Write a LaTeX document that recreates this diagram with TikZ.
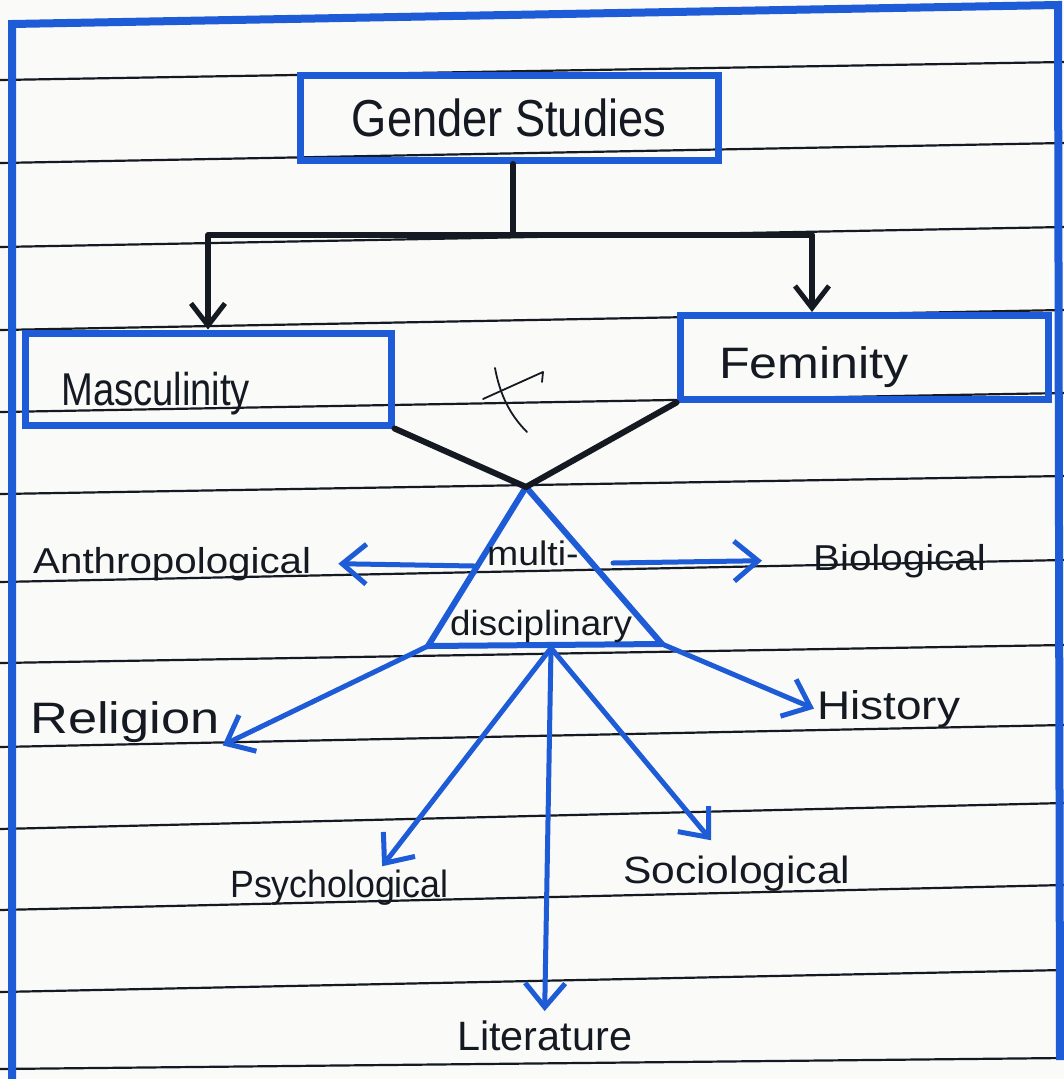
\documentclass[tikz,border=0pt]{standalone}
\usepackage{fontspec}
\setmainfont{Liberation Sans}
\usetikzlibrary{arrows.meta,calc}
\definecolor{pen}{HTML}{1E5BD6}
\definecolor{ink}{HTML}{151A22}
\definecolor{paperbg}{HTML}{FAFAF8}
\newcommand{\hw}[2]{\addfontfeature{FakeStretch=#2}\fontsize{#1pt}{#1pt}\selectfont}
\begin{document}
\begin{tikzpicture}[x=1pt,y=-1pt,
  rule/.style={draw=ink, line width=2.2pt},
  bluebox/.style={draw=pen, line width=7pt, rectangle, inner sep=0pt, text=ink},
  lbl/.style={text=ink, inner sep=3pt, anchor=base west},
  blk/.style={draw=ink, line width=6pt, line cap=round, line join=round},
  karr/.style={blk, -{Straight Barb[length=22pt,width=34pt,line width=5pt]}},
  barr/.style={draw=pen, line width=5pt, line cap=round, -{Straight Barb[length=24pt,width=40pt,line width=5pt]}}
]
\useasboundingbox (0,0) rectangle (1064,1079);
\fill[paperbg] (0,0) rectangle (1064,1079);
% ruled lines
\foreach \a/\b in {80/62,163/143,247/227,330/310,412/393,494/476,582/560,663/645,747/725,829/803,910/885,992/970,1069/1058}
  \draw[rule] (0,\a) -- (1064,\b);
% page border
\draw[draw=pen, line width=8pt] (12,1079) -- (12,24) -- (1058,5) -- (1060,1060);

% boxes
\node[bluebox, minimum width=418pt, minimum height=85pt, font=\hw{52}{0.87}] (gs) at (509,118) {Gender Studies};
\node[bluebox, minimum width=366pt, minimum height=92pt] (mascbox) at (208,379) {};
\node[lbl, font=\hw{46}{0.83}] (masc) at (58,405) {Masculinity};
\node[bluebox, minimum width=368pt, minimum height=84pt] (fembox) at (864,357) {};
\node[lbl, font=\hw{44}{1.14}] (fem) at (716,378) {Feminity};

% tree connectors
\coordinate (j) at (513,235);
\coordinate (femtop) at (812,312);
\draw[blk] (gs.south -| j) -- (j);
\draw[karr] (j) -| (mascbox.north);
\draw[karr] (j) -| (femtop);

% scribble
\draw[ink, line width=1.8pt, line cap=round] (495,368) .. controls (500,395) and (510,415) .. (527,432);
\draw[ink, line width=1.8pt, line cap=round, line join=round] (483,399) -- (543,372) -- (542,382);

% triangle
\coordinate (apex) at (526,487);
\coordinate (bl) at (428,646);
\coordinate (br) at (662,644);
\coordinate (bc) at (551,648);
\draw[draw=pen, line width=6pt, line join=round] (apex) -- (bl) -- (br) -- cycle;
\draw[blk] (mascbox.south east) -- (apex);
\draw[blk] (fembox.south west) -- (apex);

\node[lbl, font=\hw{34}{1.1}] (multi) at (484,565) {multi-};
\node[lbl, font=\hw{35}{1.05}] (disc) at (447,635) {disciplinary};

% labels around
\node[lbl, font=\hw{36}{1.12}] (anth) at (30,573) {Anthropological};
\node[lbl, font=\hw{36}{1.12}] (bio) at (810,570) {Biological};
\node[lbl, font=\hw{44}{1.19}] (rel) at (27,733) {Religion};
\node[lbl, font=\hw{40}{1.15}] (hist) at (814,719) {History};
\node[lbl, font=\hw{38}{0.94}] (psy) at (227,897) {Psychological};
\node[lbl, font=\hw{38}{1.12}] (soc) at (620,883) {Sociological};
\node[lbl, font=\hw{41}{1.01}] (lit) at (454,1050) {Literature};

% arrows
\coordinate (ls) at (474,566);
\coordinate (rs) at (613,563);
\draw[barr] (ls) -- ([xshift=24pt]anth.east);
\draw[barr] (rs) -- ([xshift=-48pt]bio.west);
\draw[barr] (bl) -- (rel.south east);
\draw[barr] (br) -- (hist.west);
\coordinate (psytip) at ($(psy.north west)!0.69!(psy.north east)$);
\coordinate (soctip) at ($(soc.north west)!0.39!(soc.north east)+(0,-12)$);
\coordinate (littip) at ($(lit.north)+(0,-6)$);
\draw[barr] (bc) -- (psytip);
\draw[barr] (bc) -- (littip);
\draw[barr] (bc) -- (soctip);
\end{tikzpicture}
\end{document}
